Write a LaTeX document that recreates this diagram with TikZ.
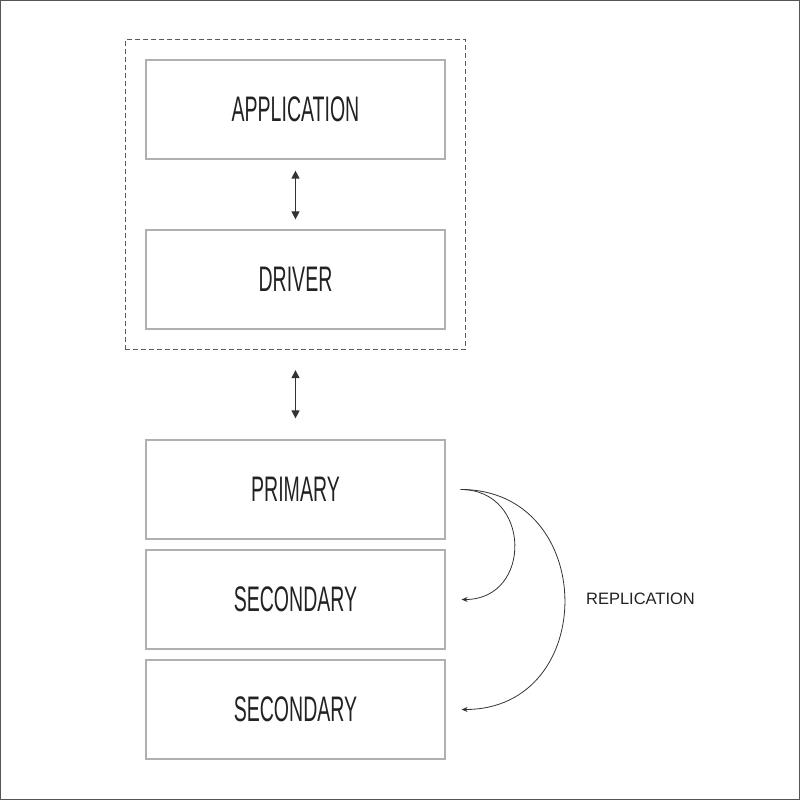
\documentclass[tikz,border=0pt]{standalone}
\usepackage{fontspec}
\setmainfont{Liberation Sans}
\newfontfamily\condfont[FakeStretch=0.55]{Liberation Sans}
\usetikzlibrary{arrows.meta,fit}
\definecolor{boxgray}{HTML}{B0B0B0}
\definecolor{framegray}{HTML}{555555}
\definecolor{dashgray}{HTML}{5A5A5A}
\definecolor{arrowdark}{HTML}{333333}
\definecolor{textdark}{HTML}{222222}
\tikzset{
  layerbox/.style={draw=boxgray, line width=1.2pt, minimum width=299pt, minimum height=99pt, inner sep=0pt,
    font=\condfont\fontsize{35.5}{40}\selectfont, text=textdark},
  groupbox/.style={draw=dashgray, line width=1.1pt, dash pattern=on 5pt off 3pt, inner sep=20pt},
  dblarrow/.style={draw=arrowdark, line width=1.2pt, {Triangle[length=8pt,width=8pt]}-{Triangle[length=8pt,width=8pt]}},
  reparrow/.style={draw=arrowdark, line width=0.8pt, -{Stealth[length=6pt,width=5pt]}},
  replabel/.style={font=\fontsize{16.5}{20}\selectfont, text=textdark, inner sep=0pt}
}
\begin{document}
\begin{tikzpicture}[x=1pt,y=1pt]
\useasboundingbox (0,0) rectangle (800,800);
\draw[framegray, line width=1.2pt] (0.6,0.6) rectangle (799.4,799.4);
\node[layerbox] (app) at (295.5,690.5) {APPLICATION};
\node[layerbox] (drv) at (295.5,520.5) {DRIVER};
\node[groupbox, fit=(app)(drv)] (grp) {};
\node[layerbox] (pri) at (295.5,310.5) {PRIMARY};
\node[layerbox] (sec1) at (295.5,200.5) {SECONDARY};
\node[layerbox] (sec2) at (295.5,90.5) {SECONDARY};
\draw[dblarrow] ([yshift=-11pt]app.south) -- ([yshift=10pt]drv.north);
\draw[dblarrow] ([yshift=-20pt]grp.south) -- ([yshift=21pt]pri.north);
\coordinate (r0) at ([xshift=15pt]pri.east);
\coordinate (r1) at ([xshift=16pt]sec1.east);
\coordinate (r2) at ([xshift=16pt]sec2.east);
\draw[reparrow] (r0) to[out=0,in=0,looseness=1.65] (r1);
\draw[reparrow] (r0) to[out=0,in=0,looseness=1.6] (r2);
\node[replabel] (lbl) at (640.5,201) {REPLICATION};
\end{tikzpicture}
\end{document}
